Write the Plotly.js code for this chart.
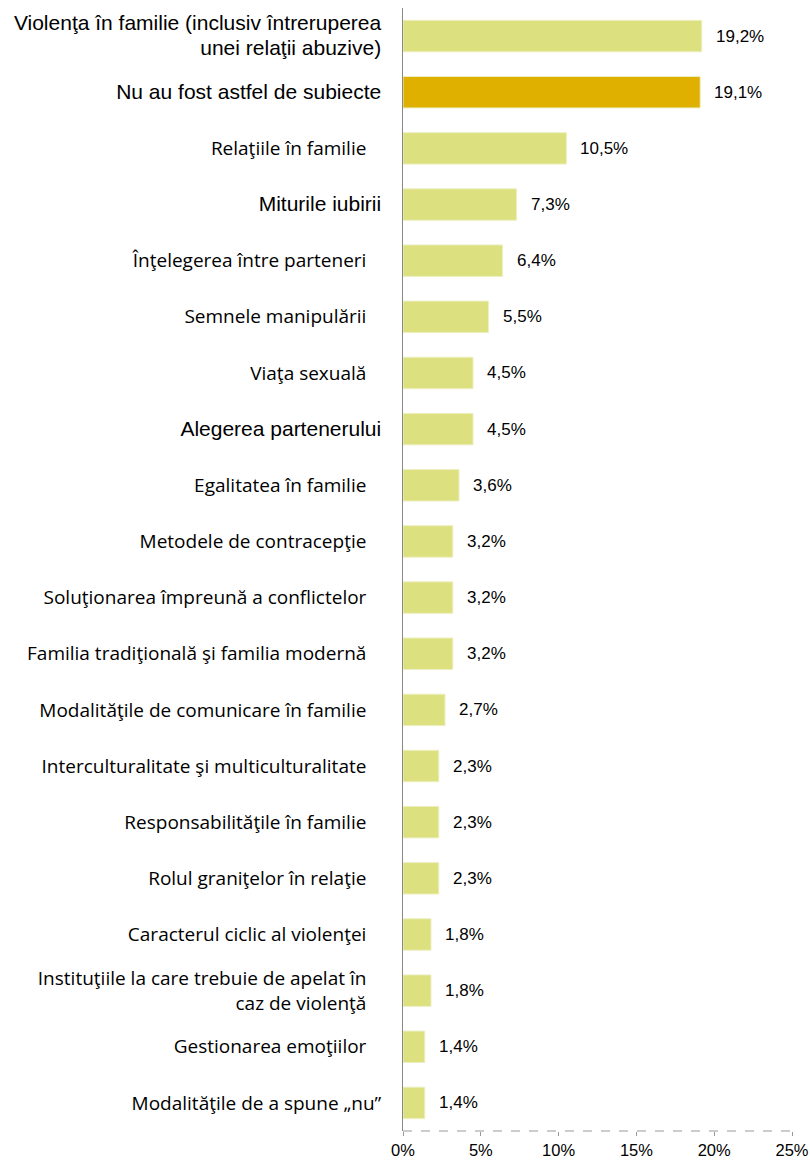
<!DOCTYPE html>
<html><head><meta charset="utf-8">
<script src="https://cdn.plot.ly/plotly-3.0.1.min.js"></script>
<style>body{margin:0;background:#fff}#c{width:810px;height:1163px}</style>
</head><body><div id="c"></div>
<script>
const categories = [
  "Violenţa în familie (inclusiv întreruperea<br>unei relaţii abuzive)",
  "Nu au fost astfel de subiecte",
  "Relaţiile în familie",
  "Miturile iubirii",
  "Înţelegerea între parteneri",
  "Semnele manipulării",
  "Viaţa sexuală",
  "Alegerea partenerului",
  "Egalitatea în familie",
  "Metodele de contracepţie",
  "Soluţionarea împreună a conflictelor",
  "Familia tradiţională şi familia modernă",
  "Modalităţile de comunicare în familie",
  "Interculturalitate şi multiculturalitate",
  "Responsabilităţile în familie",
  "Rolul graniţelor în relaţie",
  "Caracterul ciclic al violenţei",
  "Instituţiile la care trebuie de apelat în<br>caz de violenţă",
  "Gestionarea emoţiilor",
  "Modalităţile de a spune „nu”"
];
const values = [19.2, 19.1, 10.5, 7.3, 6.4, 5.5, 4.5, 4.5, 3.6, 3.2, 3.2, 3.2, 2.7, 2.3, 2.3, 2.3, 1.8, 1.8, 1.4, 1.4];
const valueLabels = ["19,2%","19,1%","10,5%","7,3%","6,4%","5,5%","4,5%","4,5%","3,6%","3,2%","3,2%","3,2%","2,7%","2,3%","2,3%","2,3%","1,8%","1,8%","1,4%","1,4%"];
const arialLabels = [0, 1, 3, 7];
const xTickVals = [0, 5, 10, 15, 20, 25];
const xTickText = ["0%","5%","10%","15%","20%","25%"];

const ids = categories.map((c, i) => "c" + i);
const pad = "\u00a0\u00a0\u00a0";
const tickText = categories.map((c, i) => {
  if (arialLabels.includes(i)) {
    return '<span style="font-family:Liberation Sans, Arial, sans-serif;font-size:21px">' + c + '</span>';
  }
  const padded = (i === categories.length - 1) ? c : c.split("<br>").map(s => s + pad).join("<br>");
  return padded;
});
const colors = values.map((v, i) => i === 1 ? "#E0B000" : "#DCE07F");

const trace = {
  type: "bar", orientation: "h",
  x: values, y: ids,
  marker: {color: colors, line: {color: "#EDEFC0", width: 1}},
  hoverinfo: "none"
};

const annotations = values.map((v, i) => ({
  x: v, y: ids[i], xref: "x", yref: "y",
  text: valueLabels[i], showarrow: false, xanchor: "left", xshift: 12,
  font: {family: "Liberation Sans, Arial, sans-serif", size: 17, color: "#000"}
}));

const layout = {
  width: 810, height: 1163,
  margin: {l: 403, r: 18, t: 8, b: 32},
  paper_bgcolor: "#fff", plot_bgcolor: "#fff",
  showlegend: false,
  bargap: 0.44,
  xaxis: {
    range: [0, 25], tickvals: xTickVals, ticktext: xTickText,
    showgrid: false, zeroline: false, showline: false,
    ticks: "outside", ticklen: 4, tickcolor: "#999",
    tickfont: {family: "Liberation Sans, Arial, sans-serif", size: 16.5, color: "#000"},
    fixedrange: true
  },
  yaxis: {
    type: "category", autorange: "reversed",
    tickvals: ids, ticktext: tickText,
    showgrid: false, zeroline: false,
    showline: true, linecolor: "#888", linewidth: 1,
    ticks: "", ticklabelstandoff: 17,
    tickfont: {family: "Open Sans, sans-serif", size: 19, color: "#000"}
  },
  shapes: [{
    type: "line", xref: "paper", yref: "paper", x0: 0, x1: 1, y0: 0, y1: 0,
    line: {color: "#999", width: 1, dash: "dash"}
  }],
  annotations: annotations
};

Plotly.newPlot("c", [trace], layout, {displayModeBar: false, staticPlot: true});
</script>
</body></html>
